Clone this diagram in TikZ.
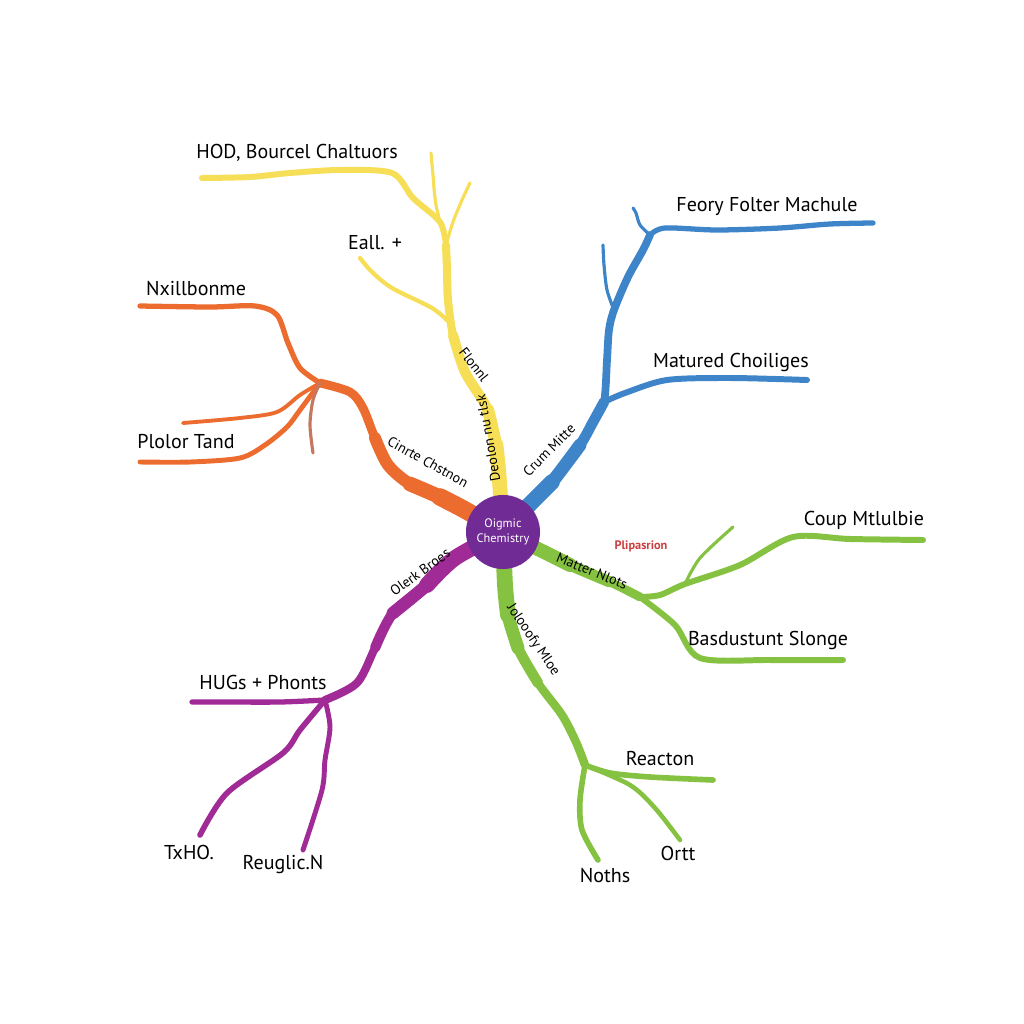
\documentclass[tikz,border=0pt]{standalone}
\usepackage{fontspec}
\setmainfont{PT Sans}
\usetikzlibrary{positioning}
\definecolor{branchYellow}{RGB}{246,222,86}
\definecolor{branchOrange}{RGB}{236,108,48}
\definecolor{branchBrown}{RGB}{196,120,96}
\definecolor{branchBlue}{RGB}{62,132,200}
\definecolor{branchGreen}{RGB}{134,194,66}
\definecolor{branchPurple}{RGB}{160,42,150}
\definecolor{hubPurple}{RGB}{112,44,148}
\definecolor{noteRed}{RGB}{205,62,62}

\tikzset{
  limb/.style={line cap=round,line join=round,line width=#1},
  topic/.style={inner sep=0pt,font=\fontsize{5.7}{7}\selectfont},
  tag/.style={inner sep=0pt,font=\fontsize{4}{5}\selectfont}
}

\begin{document}
\begin{tikzpicture}[x=0.01cm,y=-0.01cm]
 \useasboundingbox (0,0) rectangle (1024,1024);
 \coordinate (hub) at (503,532);

 % yellow branch
 \coordinate (yFork) at (446,245);
 \coordinate (yKnee) at (449,322);
 \draw[limb=4.2pt,branchYellow] plot[smooth] coordinates {(hub) (499,475) (496,445)};
 \draw[limb=3.5pt,branchYellow] plot[smooth] coordinates {(hub) (499,475) (496,445) (488,410)};
 \draw[limb=2.9pt,branchYellow] plot[smooth] coordinates {(hub) (499,475) (496,445) (488,410) (465,372) (453,335)};
 \draw[limb=2.3pt,branchYellow] plot[smooth] coordinates {(hub) (499,475) (496,445) (488,410) (465,372) (453,335) (448,300) (447,270) (yFork)};
 \draw[limb=1.7pt,branchYellow] plot[smooth] coordinates {(yFork) (440,222) (413,198) (392,173) (340,170) (290,173) (250,177) (202,178)};
 \draw[limb=0.9pt,branchYellow] plot[smooth] coordinates {(yFork) (436,205) (433,175) (431,153)};
 \draw[limb=0.9pt,branchYellow] plot[smooth] coordinates {(yFork) (453,222) (462,200) (470,183)};
 \draw[limb=1.2pt,branchYellow] plot[smooth] coordinates {(yKnee) (432,308) (392,288) (372,272) (360,258)};

 % orange branch
 \coordinate (oFork) at (320,383);
 \draw[limb=5pt,branchOrange] plot[smooth] coordinates {(hub) (465,510) (440,497)};
 \draw[limb=4.2pt,branchOrange] plot[smooth] coordinates {(hub) (465,510) (440,497) (410,484)};
 \draw[limb=3.4pt,branchOrange] plot[smooth] coordinates {(hub) (465,510) (440,497) (410,484) (388,465) (375,438)};
 \draw[limb=2.5pt,branchOrange] plot[smooth] coordinates {(hub) (465,510) (440,497) (410,484) (388,465) (375,438) (363,408) (350,392) (oFork)};
 \draw[limb=1.5pt,branchOrange] plot[smooth] coordinates {(oFork) (300,368) (288,343) (277,315) (255,306) (210,307) (140,306)};
 \draw[limb=1.1pt,branchOrange] plot[smooth] coordinates {(oFork) (300,395) (277,412) (240,418) (183,423)};
 \draw[limb=1.4pt,branchOrange] plot[smooth] coordinates {(oFork) (300,410) (287,427) (265,445) (240,458) (190,462) (140,462)};
 \draw[limb=0.9pt,branchBrown] plot[smooth] coordinates {(oFork) (313,400) (310,425) (313,453)};

 % blue branch
 \coordinate (bJunc) at (604,402);
 \coordinate (bKnee) at (614,310);
 \coordinate (bFork) at (650,235);
 \draw[limb=4.5pt,branchBlue] plot[smooth] coordinates {(hub) (532,502) (552,482)};
 \draw[limb=3.7pt,branchBlue] plot[smooth] coordinates {(hub) (532,502) (552,482) (580,445)};
 \draw[limb=3pt,branchBlue] plot[smooth] coordinates {(hub) (532,502) (552,482) (580,445) (593,422) (bJunc)};
 \draw[limb=2.2pt,branchBlue] plot[smooth] coordinates {(hub) (532,502) (552,482) (580,445) (593,422) (bJunc) (607,360) (609,330) (bKnee) (628,277) (643,250) (bFork)};
 \draw[limb=1.5pt,branchBlue] plot[smooth] coordinates {(bFork) (665,228) (717,230) (780,228) (830,224) (873,223)};
 \draw[limb=0.9pt,branchBlue] plot[smooth] coordinates {(bFork) (640,225) (636,213) (633,208)};
 \draw[limb=0.9pt,branchBlue] plot[smooth] coordinates {(bKnee) (607,290) (604,265) (603,245)};
 \draw[limb=1.7pt,branchBlue] plot[smooth] coordinates {(bJunc) (625,393) (667,380) (730,378) (807,380)};

 % green branch, right
 \coordinate (gFork) at (640,597);
 \coordinate (gTwig) at (685,584);
 \draw[limb=4pt,branchGreen] plot[smooth] coordinates {(hub) (540,550) (570,565)};
 \draw[limb=3.2pt,branchGreen] plot[smooth] coordinates {(hub) (540,550) (570,565) (610,582)};
 \draw[limb=2.5pt,branchGreen] plot[smooth] coordinates {(hub) (540,550) (570,565) (610,582) (gFork)};
 \draw[limb=1.7pt,branchGreen] plot[smooth] coordinates {(gFork) (660,595) (gTwig) (740,565) (793,537) (850,539) (923,540)};
 \draw[limb=0.9pt,branchGreen] plot[smooth] coordinates {(gTwig) (700,558) (733,527)};
 \draw[limb=1.7pt,branchGreen] plot[smooth] coordinates {(gFork) (675,625) (700,658) (770,660) (843,660)};

 % green branch, down
 \coordinate (gDown) at (585,765);
 \draw[limb=4.5pt,branchGreen] plot[smooth] coordinates {(hub) (505,585) (508,615)};
 \draw[limb=3.7pt,branchGreen] plot[smooth] coordinates {(hub) (505,585) (508,615) (518,648)};
 \draw[limb=3pt,branchGreen] plot[smooth] coordinates {(hub) (505,585) (508,615) (518,648) (538,683)};
 \draw[limb=2.4pt,branchGreen] plot[smooth] coordinates {(hub) (505,585) (508,615) (518,648) (538,683) (562,715) (576,742) (gDown)};
 \draw[limb=1.6pt,branchGreen] plot[smooth] coordinates {(gDown) (610,773) (650,777) (713,780)};
 \draw[limb=1.3pt,branchGreen] plot[smooth] coordinates {(gDown) (630,785) (655,808) (680,840)};
 \draw[limb=1.6pt,branchGreen] plot[smooth] coordinates {(gDown) (580,800) (582,830) (598,860)};

 % purple branch
 \coordinate (pFork) at (325,700);
 \draw[limb=4.5pt,branchPurple] plot[smooth] coordinates {(hub) (455,558) (427,585)};
 \draw[limb=3.6pt,branchPurple] plot[smooth] coordinates {(hub) (455,558) (427,585) (393,613)};
 \draw[limb=2.9pt,branchPurple] plot[smooth] coordinates {(hub) (455,558) (427,585) (393,613) (375,648)};
 \draw[limb=2.3pt,branchPurple] plot[smooth] coordinates {(hub) (455,558) (427,585) (393,613) (375,648) (357,683) (pFork)};
 \draw[limb=1.5pt,branchPurple] plot[smooth] coordinates {(pFork) (280,702) (223,702) (192,702)};
 \draw[limb=1.6pt,branchPurple] plot[smooth] coordinates {(pFork) (300,730) (283,753) (227,793) (200,835)};
 \draw[limb=1.4pt,branchPurple] plot[smooth] coordinates {(pFork) (330,727) (325,760) (322,790) (303,850)};

 % centre
 \node[circle,fill=hubPurple,minimum size=0.74cm,inner sep=0pt,text=white,align=center,
   font=\fontsize{3.5}{4.3}\selectfont] (core) at (hub) {Oigmic\\Chemistry};

 % topic labels
 \node[topic] (hod) at (297,153) {HOD, Bourcel Chaltuors};
 \node[topic] (eall) at (375,243) {Eall. +};
 \node[topic] (nxill) at (196,288) {Nxillbonme};
 \node[topic] (plolor) at (186,442) {Plolor Tand};
 \node[topic] (feory) at (767,207) {Feory Folter Machule};
 \node[topic] (matured) at (731,362) {Matured Choiliges};
 \node[topic] (coup) at (864,520) {Coup Mtlulbie};
 \node[topic] (basd) at (768,640) {Basdustunt Slonge};
 \node[topic] (reacton) at (660,759) {Reacton};
 \node[topic] (ortt) at (678,853) {Ortt};
 \node[topic] (noths) at (605,875) {Noths};
 \node[topic] (hugs) at (263,682) {HUGs + Phonts};
 \node[topic] (txho) at (189,852) {TxHO.};
 \node[topic] (reuglic) at (283,864) {Reuglic.N};

 % labels along the stems
 \node[tag,rotate=-52] (flonnl) at (474,365) {Flonnl};
 \node[tag,rotate=100] (deolon) at (488,438) {Deolon nu tlsk};
 \node[tag,rotate=-29] (cinrte) at (428,462) {Cinrte Chstnon};
 \node[tag,rotate=45] (crum) at (549,450) {Crum Mitte};
 \node[tag,rotate=-22] (matter) at (592,571) {Matter Nlots};
 \node[tag,rotate=-56] (jolo) at (533,640) {Jolooofy Mloe};
 \node[tag,rotate=36] (olerk) at (420,572) {Olerk Broes};
 \node[inner sep=0pt,text=noteRed,font=\bfseries\fontsize{3.5}{4.3}\selectfont] (plip) at (641,546) {Plipasrion};
\end{tikzpicture}
\end{document}
